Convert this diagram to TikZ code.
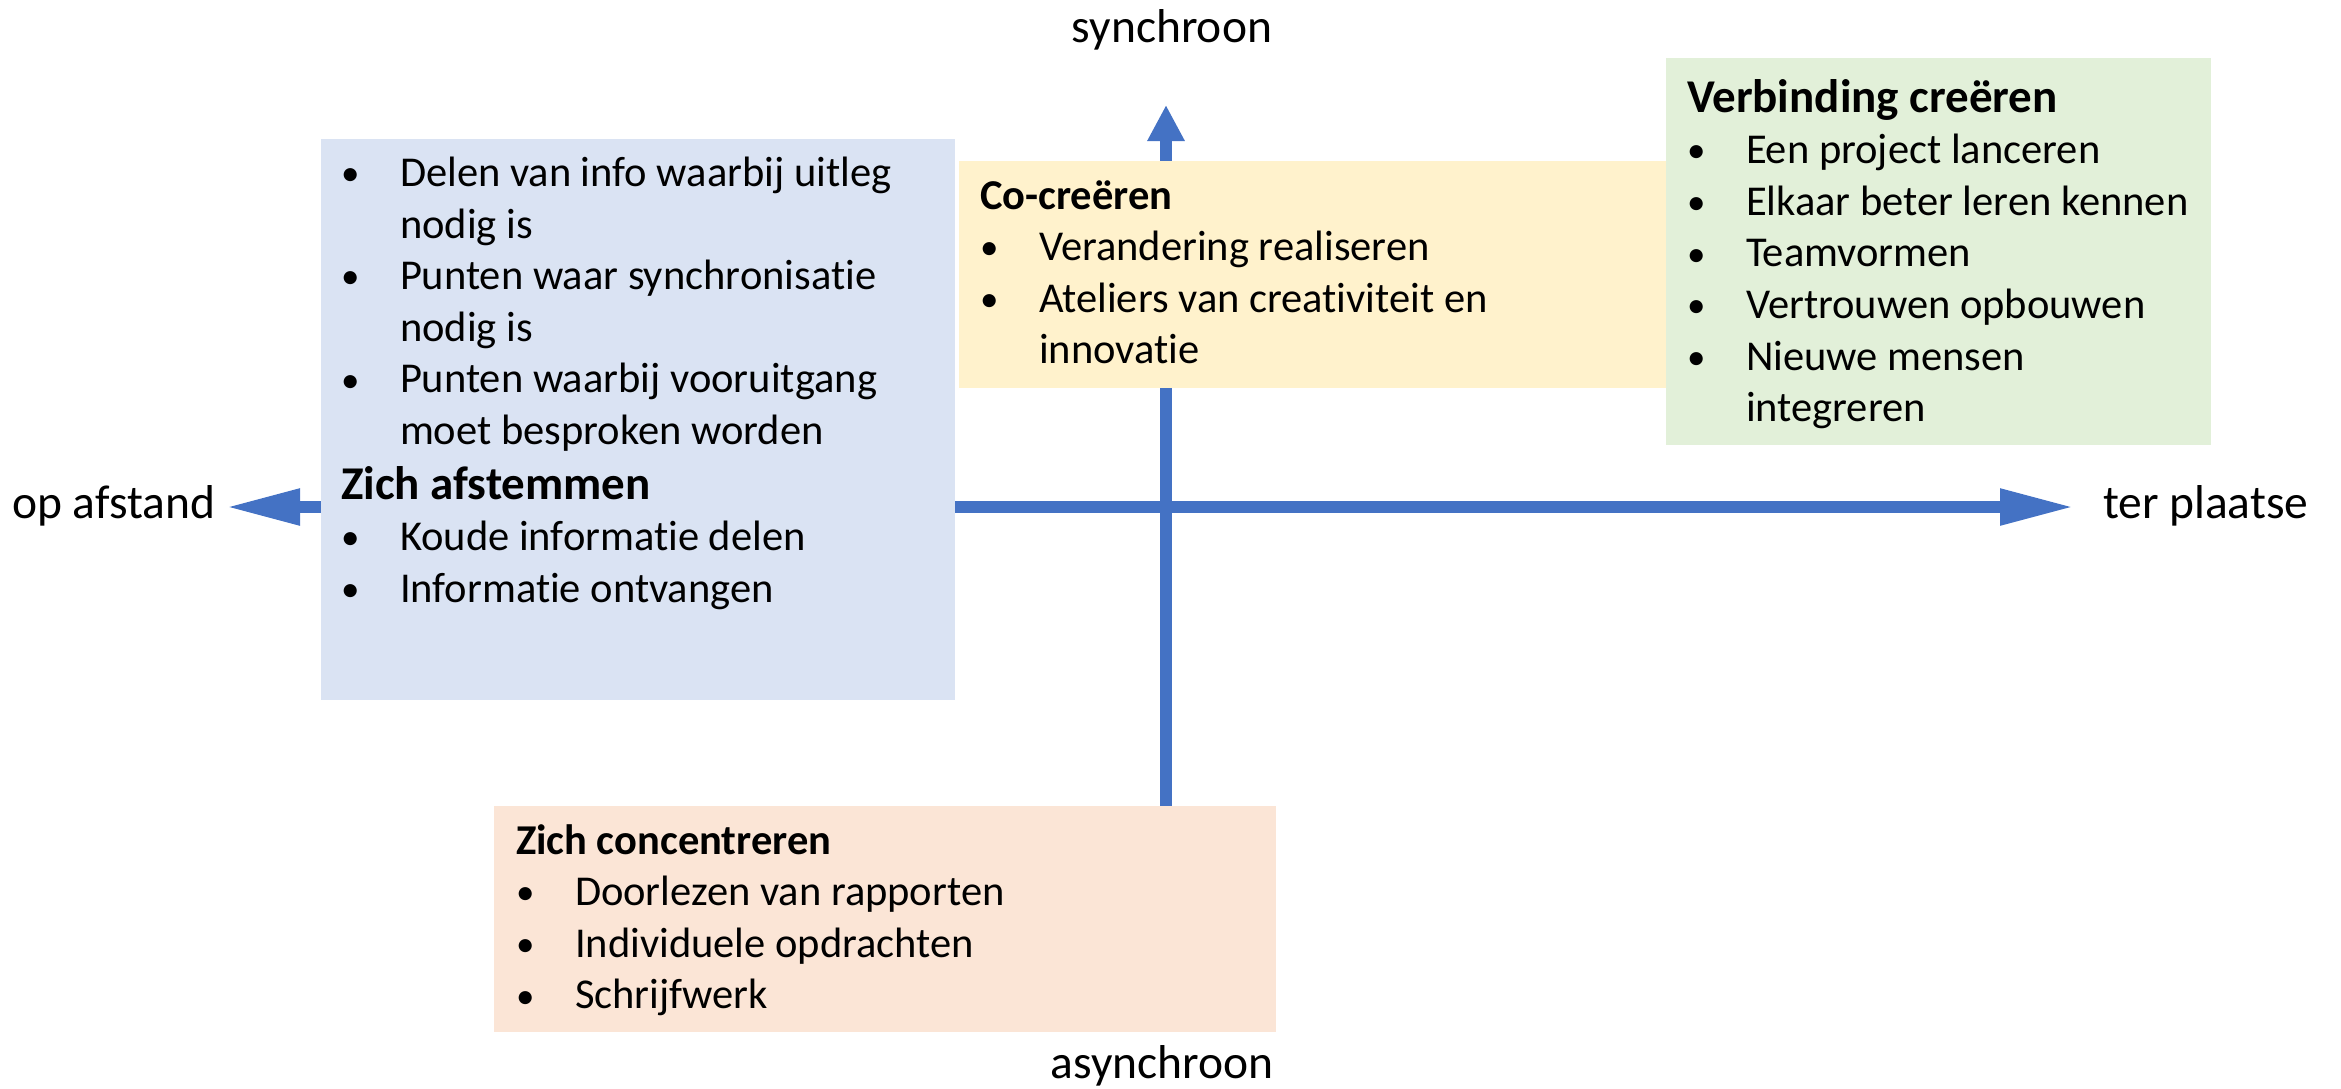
\documentclass[tikz,border=0pt]{standalone}
\usepackage{fontspec}
\setmainfont{Carlito}[Ligatures=NoCommon]
\usetikzlibrary{arrows.meta}

\definecolor{axisblue}{HTML}{4472C4}
\definecolor{alignfill}{HTML}{DAE3F3}
\definecolor{cocreatefill}{HTML}{FFF2CC}
\definecolor{connectfill}{HTML}{E2F0D9}
\definecolor{focusfill}{HTML}{FBE5D6}

% bullet line and continuation line of a list
\newcommand{\smallbullet}{\raisebox{0.4pt}{\fontsize{18.5pt}{18.5pt}\selectfont\textbullet}}
\newcommand{\itm}[1]{\makebox[29.5pt][l]{\smallbullet}#1}
\newcommand{\cnt}[1]{\hspace*{29.5pt}#1}
% fixes the top of a text block relative to its first baseline
\newcommand{\toprule}[1]{\rule{0pt}{#1}}

\begin{document}
\begin{tikzpicture}[x=0.5pt,y=-0.5pt,
  quadrant/.style={inner sep=0pt, outer sep=0pt, anchor=north west},
  body/.style={inner sep=0pt, outer sep=0pt, anchor=north west, align=left,
    font=\fontsize{21.25pt}{25.8pt}\selectfont},
  axislabel/.style={inner sep=0pt, outer sep=0pt,
    font=\fontsize{23.75pt}{28pt}\selectfont},
  axisline/.style={draw=axisblue, line width=5.75pt}]

\useasboundingbox (0,0) rectangle (2341,1088);

% axis ends
\coordinate (west) at (226,507);
\coordinate (east) at (2074,507);
\coordinate (north) at (1166,105);
\coordinate (south) at (1166,808);

% axes
\draw[axisline, {Triangle[length=37pt,width=17pt]}-{Triangle[length=37pt,width=17pt]}] (west) -- (east);
\draw[axisline, -{Triangle[length=18pt,width=17.5pt]}] (south) -- (north);

% axis labels
\node[axislabel, anchor=base] (sync) at (1172,42) {synchroon};
\node[axislabel, anchor=base] (async) at (1162,1078) {asynchroon};
\node[axislabel, anchor=base west] (remote) at (12,518) {op afstand};
\node[axislabel, anchor=base west] (onsite) at (2103,518) {ter plaatse};

% quadrant boxes
\node[quadrant, fill=alignfill, minimum width=317pt, minimum height=280.5pt] (alignbox) at (321,139) {};
\node[quadrant, fill=cocreatefill, minimum width=356pt, minimum height=113.5pt] (cocreatebox) at (959,161) {};
\node[quadrant, fill=connectfill, minimum width=272.5pt, minimum height=193.5pt] (connectbox) at (1666,58) {};
\node[quadrant, fill=focusfill, minimum width=391pt, minimum height=113pt] (focusbox) at (494,806) {};

% box contents
\node[body] (aligntext) at (341,144) {\toprule{21.25pt}\itm{Delen van info waarbij uitleg}\\
\cnt{nodig is}\\
\itm{Punten waar synchronisatie}\\
\cnt{nodig is}\\
\itm{Punten waarbij vooruitgang}\\
\cnt{moet besproken worden}\\[1.5pt]
{\bfseries\fontsize{23.5pt}{25.8pt}\selectfont Zich afstemmen}\\
\itm{Koude informatie delen}\\
\itm{Informatie ontvangen}};

\node[body] (cocreatetext) at (980,166.5) {\toprule{21.25pt}{\bfseries Co-creëren}\\
\itm{Verandering realiseren}\\
\itm{Ateliers van creativiteit en}\\
\cnt{innovatie}};

\node[body] (connecttext) at (1687,65) {\toprule{23.5pt}{\bfseries\fontsize{23.5pt}{25.8pt}\selectfont Verbinding creëren}\\
\itm{Een project lanceren}\\
\itm{Elkaar beter leren kennen}\\
\itm{Teamvormen}\\
\itm{Vertrouwen opbouwen}\\
\itm{Nieuwe mensen}\\
\cnt{integreren}};

\node[body] (focustext) at (516,811.5) {\toprule{21.25pt}{\bfseries Zich concentreren}\\
\itm{Doorlezen van rapporten}\\
\itm{Individuele opdrachten}\\
\itm{Schrijfwerk}};

\end{tikzpicture}
\end{document}
